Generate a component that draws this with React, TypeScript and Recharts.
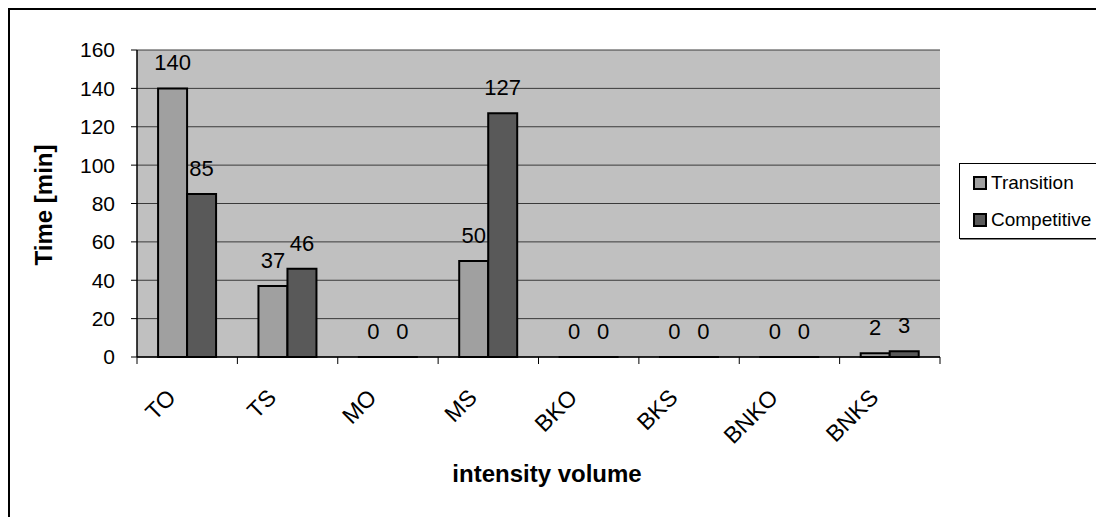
import React from 'react';
import { BarChart, Bar, XAxis, YAxis, CartesianGrid, LabelList } from 'recharts';

const categories = ['TO', 'TS', 'MO', 'MS', 'BKO', 'BKS', 'BNKO', 'BNKS'];
const transition = [140, 37, 0, 50, 0, 0, 0, 2];
const competitive = [85, 46, 0, 127, 0, 0, 0, 3];
const yTicks = [0, 20, 40, 60, 80, 100, 120, 140, 160];

const data = categories.map((name, i) => ({
  name,
  Transition: transition[i],
  Competitive: competitive[i],
}));

const FONT = '"Liberation Sans", Arial, sans-serif';
const W = 1096;
const H = 509;
const PLOT_LEFT = 129;
const PLOT_W = 803;
const BAND = PLOT_W / categories.length;

// zero bars still need a rect so the value label shows
const zeroSize = (value: any) => (value === 0 ? 0.01 : 0);

const XTick = (props: any) => {
  const { x, y, payload, index } = props;
  const left = x - BAND / 2;
  return (
    <g>
      <line x1={left} y1={y} x2={left} y2={y + 7} stroke="#000" />
      {index === categories.length - 1 && (
        <line x1={x + BAND / 2} y1={y} x2={x + BAND / 2} y2={y + 7} stroke="#000" />
      )}
      <text
        x={x - 10}
        y={y + 42}
        transform={`rotate(-45 ${x - 10} ${y + 42})`}
        textAnchor="end"
        fontSize={23}
        fontFamily={FONT}
        fill="#000"
      >
        {payload.value}
      </text>
    </g>
  );
};

const LegendBox = () => (
  <div
    style={{
      position: 'absolute',
      left: 951,
      top: 155,
      width: 142,
      height: 76,
      boxSizing: 'border-box',
      border: '1px solid #000',
      boxShadow: '1px 1px 0 #808080',
      background: '#fff',
      fontFamily: FONT,
      fontSize: 19,
      color: '#000',
      padding: '0 0 0 13px',
    }}
  >
    {[
      { label: 'Transition', fill: '#a0a0a0' },
      { label: 'Competitive', fill: '#595959' },
    ].map((it) => (
      <div key={it.label} style={{ display: 'flex', alignItems: 'center', height: 37 }}>
        <span
          style={{
            display: 'inline-block',
            width: 10,
            height: 10,
            background: it.fill,
            border: '2px solid #000',
            marginRight: 4,
          }}
        />
        {it.label}
      </div>
    ))}
  </div>
);

export default function App() {
  return (
    <div style={{ position: 'relative', width: W, height: H }}>
      <BarChart
        width={W}
        height={H}
        data={data}
        margin={{ top: 42, right: W - PLOT_LEFT - PLOT_W, bottom: 100, left: 0 }}
        barCategoryGap="21%"
        barGap={0}
        style={{ fontFamily: FONT }}
      >
        <CartesianGrid vertical={false} fill="#c0c0c0" stroke="#3a3a3a" fillOpacity={1} />
        <XAxis
          dataKey="name"
          height={60}
          tickLine={false}
          tickSize={0}
          tickMargin={0}
          axisLine={{ stroke: '#000', strokeWidth: 1.5 }}
          tick={<XTick />}
          interval={0}
          label={{
            content: () => (
              <text x={539} y={465} textAnchor="middle" dominantBaseline="central" fontSize={24} fontWeight="bold" fontFamily={FONT} fill="#000">
                intensity volume
              </text>
            ),
          }}
        />
        <YAxis
          width={PLOT_LEFT}
          domain={[0, 160]}
          ticks={yTicks}
          interval={0}
          tickSize={6}
          tickMargin={16}
          tickLine={{ stroke: '#000' }}
          axisLine={{ stroke: '#000', strokeWidth: 1.5 }}
          tick={{ fill: '#000', fontSize: 21, fontFamily: FONT }}
          label={{
            content: () => (
              <text x={35} y={197} transform="rotate(-90 35 197)" textAnchor="middle" dominantBaseline="central" fontSize={24} fontWeight="bold" fontFamily={FONT} fill="#000">
                Time [min]
              </text>
            ),
          }}
        />
        <YAxis
          yAxisId="r"
          orientation="right"
          width={0}
          domain={[0, 160]}
          tick={false}
          tickLine={false}
          axisLine={{ stroke: '#808080', strokeWidth: 2 }}
        />
        <Bar dataKey="Transition" fill="#a0a0a0" stroke="#000" strokeWidth={2} minPointSize={zeroSize} isAnimationActive={false}>
          <LabelList dataKey="Transition" position="top" offset={18} fill="#000" fontSize={22} fontFamily={FONT} />
        </Bar>
        <Bar dataKey="Competitive" fill="#595959" stroke="#000" strokeWidth={2} minPointSize={zeroSize} isAnimationActive={false}>
          <LabelList dataKey="Competitive" position="top" offset={18} fill="#000" fontSize={22} fontFamily={FONT} />
        </Bar>
      </BarChart>
      <LegendBox />
      <div
        style={{
          position: 'absolute',
          left: 0,
          top: 0,
          width: W,
          height: H,
          boxSizing: 'border-box',
          borderLeft: '2px solid #000',
          borderTop: '2px solid #000',
          pointerEvents: 'none',
        }}
      />
    </div>
  );
}
